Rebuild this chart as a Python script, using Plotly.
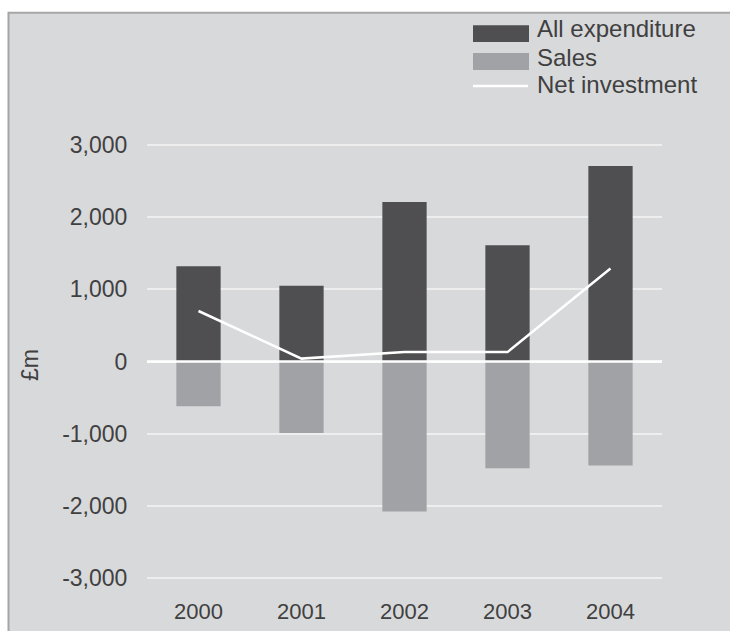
import plotly.graph_objects as go

# Capital spending by year (£m)
years = ["2000", "2001", "2002", "2003", "2004"]
all_expenditure = [1320, 1050, 2210, 1610, 2710]
sales = [-620, -990, -2080, -1480, -1440]
net_investment = [700, 40, 130, 130, 1290]

y_tick_vals = [-3000, -2000, -1000, 0, 1000, 2000, 3000]
y_tick_text = ["-3,000", "-2,000", "-1,000", "0", "1,000", "2,000", "3,000"]

legend_labels = ["All expenditure", "Sales", "Net investment"]

DARK = "#4f4f51"
LIGHT = "#a1a2a5"
PANEL = "#d8d9db"
TEXT = "#404040"
FONT = "Liberation Sans, Arial, sans-serif"

W, H = 730, 631
Y_LO, Y_HI = -3015, 3015
# plot area chosen so that +/-3000 land on rows 145 and 578
px_per_unit = (578 - 145) / 6000.0
T = 145 - (Y_HI - 3000) * px_per_unit
B = H - (578 + (-3000 - Y_LO) * px_per_unit)
L, R = 147, 68
PW, PH = W - L - R, H - T - B


def px(x):
    return (x - L) / PW


def py(y):
    return (H - B - y) / PH


fig = go.Figure()
fig.add_trace(go.Bar(x=years, y=all_expenditure, name=legend_labels[0],
                     marker=dict(color=DARK, line=dict(width=0)), width=0.43))
fig.add_trace(go.Bar(x=years, y=sales, name=legend_labels[1],
                     marker=dict(color=LIGHT, line=dict(width=0)), width=0.43))
fig.add_trace(go.Scatter(x=years, y=net_investment, name=legend_labels[2],
                         mode="lines", line=dict(color="white", width=2.5)))

shapes = [
    # framed panel behind the chart
    dict(type="rect", xref="paper", yref="paper", layer="below",
         x0=px(8.5), x1=px(760), y0=py(660), y1=py(12.5),
         fillcolor=PANEL, line=dict(color="#a6a6a6", width=2)),
    # zero line drawn over the bars
    dict(type="line", xref="paper", yref="y", layer="above",
         x0=0, x1=1, y0=0, y1=0, line=dict(color="white", width=2.5)),
    # legend swatches
    dict(type="rect", xref="paper", yref="paper", layer="above",
         x0=px(473), x1=px(529), y0=py(42), y1=py(25),
         fillcolor=DARK, line=dict(width=0)),
    dict(type="rect", xref="paper", yref="paper", layer="above",
         x0=px(473), x1=px(529), y0=py(70), y1=py(53),
         fillcolor=LIGHT, line=dict(width=0)),
    dict(type="line", xref="paper", yref="paper", layer="above",
         x0=px(473), x1=px(528), y0=py(86), y1=py(86),
         line=dict(color="white", width=2.5)),
]

annotations = [
    dict(text="£m", xref="paper", yref="paper", x=px(30), y=py(365),
         textangle=-90, showarrow=False, xanchor="center", yanchor="middle",
         font=dict(family=FONT, size=23, color=TEXT)),
]
for label, yc in zip(legend_labels, [28, 57, 84]):
    annotations.append(dict(text=label, xref="paper", yref="paper",
                            x=px(535), y=py(yc), showarrow=False,
                            xanchor="left", yanchor="middle",
                            font=dict(family=FONT, size=24, color=TEXT)))

fig.update_layout(
    width=W, height=H,
    margin=dict(l=L, r=R, t=T, b=B, pad=0, autoexpand=False),
    paper_bgcolor="white",
    plot_bgcolor="rgba(0,0,0,0)",
    barmode="relative",
    showlegend=False,
    font=dict(family=FONT, size=22, color=TEXT),
    shapes=shapes,
    annotations=annotations,
    xaxis=dict(type="category", showgrid=False, zeroline=False, showline=False,
               automargin=False,
               ticks="outside", ticklen=13, tickcolor="rgba(0,0,0,0)",
               tickfont=dict(family=FONT, size=22, color=TEXT)),
    yaxis=dict(range=[Y_LO, Y_HI], tickvals=y_tick_vals, ticktext=y_tick_text,
               automargin=False,
               showgrid=True, gridcolor="#eeeeef", gridwidth=2,
               zeroline=False, showline=False,
               ticks="outside", ticklen=14, tickcolor="rgba(0,0,0,0)",
               tickfont=dict(family=FONT, size=23, color=TEXT)),
)

fig.write_html("out.html")
